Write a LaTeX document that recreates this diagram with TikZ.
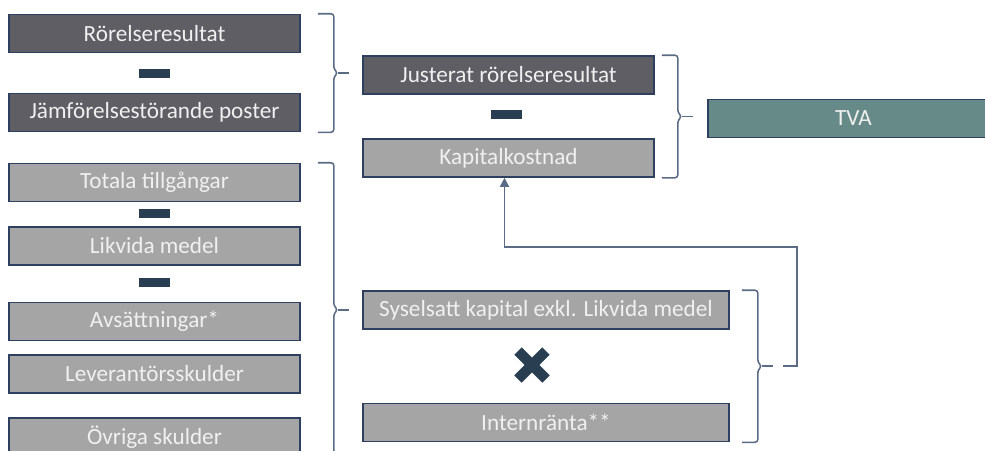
\documentclass[tikz,border=0pt]{standalone}
\usepackage{fontspec}
\setmainfont{Carlito}
\usepackage{tikz}
\usetikzlibrary{calc,arrows.meta}

\definecolor{morkgra}{HTML}{5F5E65}
\definecolor{ljusgra}{HTML}{A5A5A5}
\definecolor{ram}{HTML}{2F3F60}
\definecolor{tecken}{HTML}{2A3E52}
\definecolor{linjefarg}{HTML}{5B6B84}
\definecolor{tvafarg}{HTML}{668A87}

% a bracket on the right of a column of boxes, #4 names its tip
\newcommand{\klammer}[4]{%
  \coordinate (#4-o) at ($(#1.north east)+(#3,0)$);
  \coordinate (#4-u) at ($(#2.south east)+(#3,0)$);
  \coordinate (#4-m) at ($(#4-o)!0.5!(#4-u)$);
  \draw[klammerlinje] ($(#4-o)+(-16,0)$) -- (#4-o) -- ($(#4-m)+(0,-4)$)
    -- ($(#4-m)+(4,0)$) -- ($(#4-m)+(0,4)$) -- (#4-u) -- ($(#4-u)+(-16,0)$);
  \draw[klammerlinje] ($(#4-m)+(4,0)$) -- ($(#4-m)+(15,0)$) coordinate (#4);
}

\begin{document}
\begin{tikzpicture}[
            x = 0.025cm, y = -0.025cm, % one unit is one pixel of the sketch
            font = \fontsize{16.5}{19}\selectfont,
            box/.style = {shape=rectangle, draw=ram, line width=1.1pt, text=white!94!black,
                          minimum width=291*0.025cm, minimum height=38*0.025cm, inner sep=0pt},
            mork/.style = {box, fill=morkgra},
            ljus/.style = {box, fill=ljusgra},
            minus/.style = {shape=rectangle, fill=tecken, minimum width=31*0.025cm,
                            minimum height=9*0.025cm, inner sep=0pt},
            klammerlinje/.style = {draw=linjefarg, line width=1.1pt, rounded corners=2pt},
            pil/.style = {draw=linjefarg, line width=1.1pt, -{Triangle[length=2.3mm,width=2.3mm]}}
        ]
\useasboundingbox (0,0) rectangle (985,450);
\clip (0,0) rectangle (985,450);

% left column
\node[mork] (rorelse) at (154.5,33.5) {Rörelseresultat};
\node[minus] (m1) at (154.5,73) {};
\node[mork] (jamfor) at (154.5,112.5) {Jämförelsestörande poster};

\node[ljus] (totala) at (154.5,182.5) {Totala tillgångar};
\node[minus] (m2) at (154.5,213.5) {};
\node[ljus] (likvida) at (154.5,246) {Likvida medel};
\node[minus] (m3) at (154.5,282.5) {};
\node[ljus] (avsatt) at (154.5,321.5) {Avsättningar*};
\node[ljus] (lev) at (154.5,374) {Leverantörsskulder};
\node[ljus] (ovriga) at (154.5,437) {Övriga skulder};

% middle column
\node[mork] (justerat) at (508.5,75) {Justerat rörelseresultat};
\node[minus] (m4) at (506,114.5) {};
\node[ljus] (kapkost) at (508.5,158) {Kapitalkostnad};

\node[ljus, minimum width=366*0.025cm] (syselsatt) at (546,310) {Syselsatt kapital exkl. Likvida medel};
\node[ljus, minimum width=366*0.025cm] (intern) at (546,422.5) {Internränta**};

\draw[tecken, line width=7.5pt] (518,351) -- (546,379) (518,379) -- (546,351);

% result
\node[box, fill=tvafarg] (tva) at (853.5,118.5) {TVA};

% brackets
\klammer{rorelse}{jamfor}{33}{k1}
\klammer{totala}{ovriga}{33}{k2}
\klammer{justerat}{kapkost}{23}{k3}
\klammer{syselsatt}{intern}{28}{k4}

\draw[pil] ($(k4)+(10,0)$) -| ($(k4)+(24,-119)$) -| ($(kapkost.south)+(-4,0)$);
\end{tikzpicture}
\end{document}
